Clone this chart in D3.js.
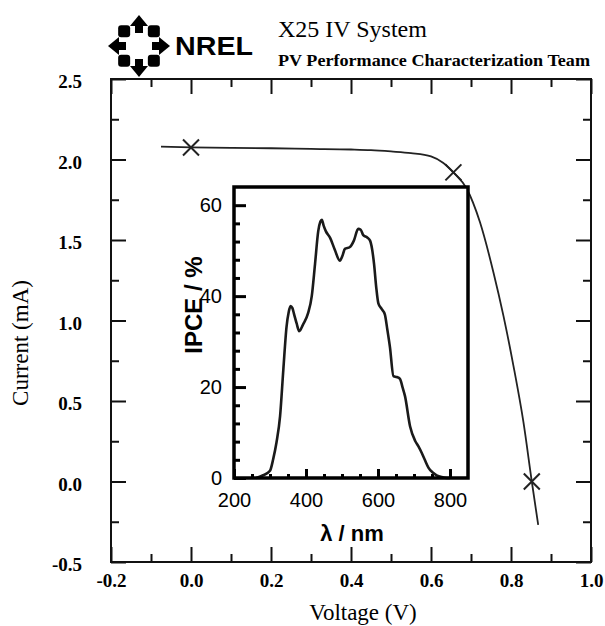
<!DOCTYPE html>
<html>
<head>
<meta charset="utf-8">
<script src="https://cdn.jsdelivr.net/npm/d3@7"></script>
<style>
  body { margin: 0; background: #fff; }
</style>
</head>
<body>
<svg id="chart" width="605" height="626"></svg>
<script>
// ---- I-V sweep (main plot) ----
const voltage = [-0.075, 0.0, 0.1, 0.2, 0.3, 0.4, 0.45, 0.5, 0.55, 0.6, 0.63, 0.656, 0.689, 0.7225, 0.756, 0.781, 0.806, 0.831, 0.852, 0.868];
const current = [2.08, 2.075, 2.072, 2.07, 2.066, 2.062, 2.058, 2.05, 2.04, 2.02, 1.98, 1.92, 1.82, 1.61, 1.30, 1.03, 0.72, 0.37, 0.0, -0.27];

// Isc, max-power point and Voc markers
const markerVoltage = [0.0, 0.656, 0.852];
const markerCurrent = [2.075, 1.92, 0.0];

const voltageTicks = [-0.2, 0.0, 0.2, 0.4, 0.6, 0.8, 1.0];
const voltageMinorTicks = [-0.1, 0.1, 0.3, 0.5, 0.7, 0.9];
const currentTicks = [-0.5, 0.0, 0.5, 1.0, 1.5, 2.0, 2.5];
const currentMinorTicks = [-0.25, 0.25, 0.75, 1.25, 1.75, 2.25];

// ---- IPCE spectrum (inset) ----
const wavelength = [262, 281, 300, 309, 318, 328, 337, 346, 352, 357, 362, 367, 374, 381, 392, 406, 416, 425, 434, 440, 444, 449, 455, 467, 480, 494, 501, 508, 522, 533, 545, 552, 559, 570, 578, 589, 595, 601, 610, 619, 626, 633, 643, 652, 661, 668, 675, 689, 703, 712, 721, 730, 740, 752, 763, 777, 791, 800];
const ipce = [0, 0.6, 1.6, 4.2, 7.8, 13.6, 23.8, 33.3, 36.5, 37.8, 37.4, 36.0, 34.0, 32.3, 33.8, 36.3, 40.0, 47.0, 54.3, 56.4, 56.8, 55.5, 54.3, 52.8, 50.2, 47.8, 48.8, 50.4, 50.8, 52.2, 54.8, 54.6, 53.4, 52.9, 52.2, 47.1, 42.0, 38.4, 37.2, 36.0, 32.6, 28.9, 22.4, 22.2, 21.8, 20.0, 18.0, 11.4, 8.2, 7.0, 5.6, 4.0, 2.3, 1.2, 0.6, 0.2, 0, 0];

const wavelengthTicks = [200, 400, 600, 800];
const wavelengthMinorTicks = [250, 300, 350, 450, 500, 550, 650, 700, 750];
const ipceTicks = [0, 20, 40, 60];
const ipceMinorTicks = [4, 8, 12, 16, 24, 28, 32, 36, 44, 48, 52, 56];

const svg = d3.select("#chart");
const serif = "'Liberation Serif', 'Times New Roman', serif";
const sans = "'Liberation Sans', Arial, sans-serif";

// ---- header ----
const logo = svg.append("g").attr("transform", "translate(139,46)").attr("fill", "#000");
[0, 90, 180, 270].forEach(a => {
  const g = logo.append("g").attr("transform", `rotate(${a})`);
  g.append("rect").attr("x", -4).attr("y", -22).attr("width", 8).attr("height", 9);
  g.append("path").attr("d", "M0,-31 L-9,-20 L9,-20 Z");
});
[45, 135, 225, 315].forEach(a => {
  logo.append("rect").attr("transform", `rotate(${a}) translate(0,-21) rotate(45)`)
    .attr("x", -6).attr("y", -6).attr("width", 12).attr("height", 12).attr("rx", 3);
});
svg.append("text").attr("x", 175).attr("y", 55)
  .attr("font-family", sans).attr("font-weight", "900").attr("font-size", 25)
  .attr("textLength", 78).attr("lengthAdjust", "spacingAndGlyphs")
  .attr("fill", "#000").text("NREL");
svg.append("text").attr("x", 278).attr("y", 37)
  .attr("font-family", serif).attr("font-size", 24).attr("fill", "#000")
  .text("X25 IV System");
svg.append("text").attr("x", 278).attr("y", 66)
  .attr("font-family", serif).attr("font-weight", "bold").attr("font-size", 17)
  .attr("textLength", 312).attr("lengthAdjust", "spacingAndGlyphs")
  .attr("fill", "#000").text("PV Performance Characterization Team");

// ---- main plot ----
const x = d3.scaleLinear().domain([-0.2, 1.0]).range([111, 591]);
const y = d3.scaleLinear().domain([-0.5, 2.5]).range([562, 79]);
const fmt = d => (d < 0 ? "-" : "") + Math.abs(d).toFixed(1);

function drawAxis(axis, translate, styleLabels) {
  const g = svg.append("g").attr("transform", translate).call(axis);
  g.select(".domain").remove();
  g.selectAll("line").attr("stroke", "#111").attr("stroke-width", 2);
  g.selectAll("text").attr("font-family", serif).attr("font-weight", "bold")
    .attr("font-size", 19).attr("fill", "#000");
  if (styleLabels) styleLabels(g);
  return g;
}

// major and minor ticks on all four sides, pointing inward
drawAxis(d3.axisBottom(x).tickValues(voltageTicks).tickSize(-15).tickPadding(12).tickFormat(fmt), "translate(0,562)");
drawAxis(d3.axisBottom(x).tickValues(voltageMinorTicks).tickSize(-8).tickFormat(""), "translate(0,562)");
drawAxis(d3.axisTop(x).tickValues(voltageTicks).tickSize(-15).tickFormat(""), "translate(0,79)");
drawAxis(d3.axisTop(x).tickValues(voltageMinorTicks).tickSize(-8).tickFormat(""), "translate(0,79)");
drawAxis(d3.axisLeft(y).tickValues(currentTicks).tickSize(-15).tickPadding(29).tickFormat(fmt), "translate(111,0)",
  g => g.selectAll("text").attr("dy", "0.45em"));
drawAxis(d3.axisLeft(y).tickValues(currentMinorTicks).tickSize(-8).tickFormat(""), "translate(111,0)");
drawAxis(d3.axisRight(y).tickValues(currentTicks).tickSize(-15).tickFormat(""), "translate(591,0)");
drawAxis(d3.axisRight(y).tickValues(currentMinorTicks).tickSize(-8).tickFormat(""), "translate(591,0)");

svg.append("rect").attr("x", x(-0.2)).attr("y", y(2.5))
  .attr("width", x(1.0) - x(-0.2)).attr("height", y(-0.5) - y(2.5))
  .attr("fill", "none").attr("stroke", "#111").attr("stroke-width", 2);

svg.append("text").attr("x", 363).attr("y", 620).attr("text-anchor", "middle")
  .attr("font-family", serif).attr("font-size", 23).attr("fill", "#000")
  .text("Voltage (V)");
svg.append("text").attr("transform", "translate(28,343) rotate(-90)").attr("text-anchor", "middle")
  .attr("font-family", serif).attr("font-size", 23).attr("fill", "#000")
  .text("Current (mA)");

const ivLine = d3.line().x(i => x(voltage[i])).y(i => y(current[i])).curve(d3.curveMonotoneX);
svg.append("path").attr("d", ivLine(d3.range(voltage.length)))
  .attr("fill", "none").attr("stroke", "#222").attr("stroke-width", 1.8);

svg.append("g").selectAll("path").data(d3.range(markerVoltage.length)).join("path")
  .attr("transform", i => `translate(${x(markerVoltage[i])},${y(markerCurrent[i])})`)
  .attr("d", "M-8,-8L8,8M-8,8L8,-8")
  .attr("stroke", "#222").attr("stroke-width", 2).attr("fill", "none");

// ---- inset: IPCE spectrum ----
const xi = d3.scaleLinear().domain([200, 850]).range([234, 468]);
const yi = d3.scaleLinear().domain([0, 64]).range([478, 187]);

svg.append("rect").attr("x", xi(200)).attr("y", yi(64))
  .attr("width", xi(850) - xi(200)).attr("height", yi(0) - yi(64)).attr("fill", "#fff");

function insetAxis(axis, translate) {
  const g = svg.append("g").attr("transform", translate).call(axis);
  g.select(".domain").remove();
  g.selectAll("line").attr("stroke", "#000").attr("stroke-width", 3);
  g.selectAll("text").attr("font-family", sans).attr("font-size", 20).attr("fill", "#000");
  return g;
}
insetAxis(d3.axisBottom(xi).tickValues(wavelengthTicks).tickSize(-9).tickPadding(15).tickFormat(d3.format("d")), "translate(0,478)");
insetAxis(d3.axisBottom(xi).tickValues(wavelengthMinorTicks).tickSize(-4).tickFormat(""), "translate(0,478)");
insetAxis(d3.axisLeft(yi).tickValues(ipceTicks).tickSize(-12).tickPadding(12).tickFormat(d3.format("d")), "translate(234,0)");
insetAxis(d3.axisLeft(yi).tickValues(ipceMinorTicks).tickSize(-6).tickFormat(""), "translate(234,0)");

const ipceLine = d3.line().x(i => xi(wavelength[i])).y(i => yi(ipce[i])).curve(d3.curveMonotoneX);
svg.append("path").attr("d", ipceLine(d3.range(wavelength.length)))
  .attr("fill", "none").attr("stroke", "#1a1a1a").attr("stroke-width", 2.6);

svg.append("rect").attr("x", xi(200)).attr("y", yi(64))
  .attr("width", xi(850) - xi(200)).attr("height", yi(0) - yi(64))
  .attr("fill", "none").attr("stroke", "#000").attr("stroke-width", 3.5);

svg.append("text").attr("x", 352).attr("y", 541).attr("text-anchor", "middle")
  .attr("font-family", sans).attr("font-weight", "bold").attr("font-size", 22).attr("fill", "#000")
  .text("λ / nm");
svg.append("text").attr("transform", "translate(202,305) rotate(-90)").attr("text-anchor", "middle")
  .attr("font-family", sans).attr("font-weight", "bold").attr("font-size", 24).attr("fill", "#000")
  .text("IPCE / %");
</script>
</body>
</html>
